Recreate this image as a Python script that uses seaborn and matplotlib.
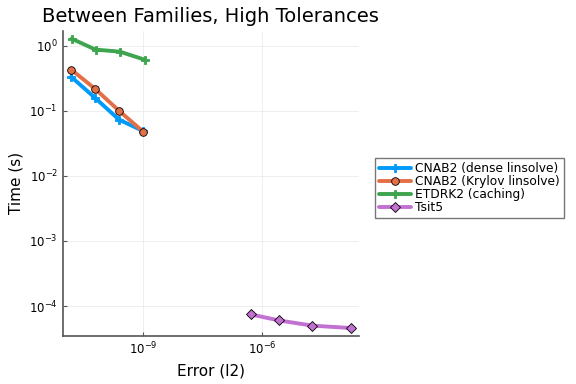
import numpy as np
import pandas as pd
import matplotlib.pyplot as plt
import seaborn as sns

# values (log-log)
cnab2_dense_err = [1.55e-11, 6.2e-11, 2.5e-10, 1.0e-9]
cnab2_dense_time = [0.333, 0.158, 0.073, 0.049]
cnab2_krylov_err = [1.55e-11, 6.2e-11, 2.5e-10, 1.0e-9]
cnab2_krylov_time = [0.43, 0.218, 0.100, 0.048]
etdrk2_err = [1.6e-11, 6.4e-11, 2.6e-10, 1.1e-9]
etdrk2_time = [1.28, 0.87, 0.81, 0.61]
tsit5_err = [5.2e-7, 2.73e-6, 1.86e-5, 1.7e-4]
tsit5_time = [7.45e-5, 6.0e-5, 5.0e-5, 4.6e-5]

labels = ["CNAB2 (dense linsolve)", "CNAB2 (Krylov linsolve)",
          "ETDRK2 (caching)", "Tsit5"]
colors = ["#009AFA", "#E36F47", "#3EA44E", "#C271D2"]
markers = ["P", "o", "P", "D"]

df = pd.concat([
    pd.DataFrame({"err": cnab2_dense_err, "time": cnab2_dense_time, "method": labels[0]}),
    pd.DataFrame({"err": cnab2_krylov_err, "time": cnab2_krylov_time, "method": labels[1]}),
    pd.DataFrame({"err": etdrk2_err, "time": etdrk2_time, "method": labels[2]}),
    pd.DataFrame({"err": tsit5_err, "time": tsit5_time, "method": labels[3]}),
])

sns.set_style("white")
plt.rcParams["font.family"] = "DejaVu Sans"
plt.rcParams["text.color"] = "black"
plt.rcParams["axes.labelcolor"] = "black"
plt.rcParams["xtick.color"] = "black"
plt.rcParams["ytick.color"] = "black"
fig = plt.figure(figsize=(5.76, 3.84), dpi=100)
ax = fig.add_axes([0.109, 0.125, 0.514, 0.795])

for lab, col, mk in zip(labels, colors, markers):
    sub = df[df["method"] == lab]
    edge = col if mk == "P" else "black"
    sns.lineplot(data=sub, x="err", y="time", ax=ax, color=col, lw=2.8,
                 marker=mk, markersize=5.5, markeredgecolor=edge,
                 markeredgewidth=0.6, label=lab, sort=False)

ax.set_xscale("log")
ax.set_yscale("log")
ax.set_xlim(10**-11.02, 10**-3.56)
ax.set_ylim(10**-4.46, 10**0.23)
ax.set_xticks([1e-9, 1e-6])
ax.set_yticks([1e0, 1e-1, 1e-2, 1e-3, 1e-4])
ax.minorticks_off()
ax.grid(True, color="#ebebeb", lw=0.6)
for s in ["top", "right"]:
    ax.spines[s].set_visible(False)
for s in ["left", "bottom"]:
    ax.spines[s].set_color("#555555")
    ax.spines[s].set_linewidth(1.2)
ax.tick_params(axis="both", labelsize=8.5, length=3, direction="in",
               color="#555555", labelcolor="black", left=True, bottom=True)

ax.set_xlabel("Error (l2)", fontsize=11)
ax.set_ylabel("Time (s)", fontsize=11)
ax.set_title("Between Families, High Tolerances", fontsize=14, loc="center")

leg = ax.legend(loc="center left", bbox_to_anchor=(1.055, 0.485), fontsize=8.8,
                frameon=True, fancybox=False, edgecolor="#555555",
                handlelength=2.6, borderpad=0.35, labelspacing=0.0,
                handletextpad=0.35, borderaxespad=0.0)
leg.get_frame().set_linewidth(1.0)
for t in leg.get_texts():
    t.set_color("black")

fig.savefig("out.png", dpi=100)
